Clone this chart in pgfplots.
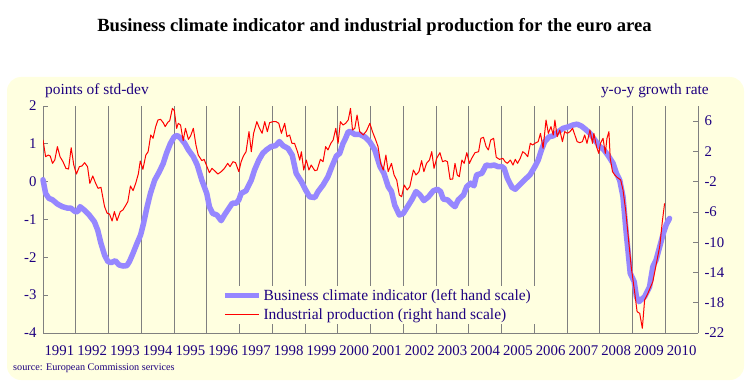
\documentclass[border=0pt]{standalone}
\usepackage{fontspec}
\setmainfont{Liberation Serif}
\usepackage{pgfplots}
\pgfplotsset{compat=1.18}
\usepackage{pgfplotstable}
\definecolor{bgy}{RGB}{255,255,224}
\definecolor{txt}{RGB}{30,0,128}
\definecolor{bci}{RGB}{150,135,255}
\definecolor{gridg}{RGB}{128,128,128}

\pgfplotstableread{
t v
1991.00 0.05
1991.08 -0.31
1991.18 -0.44
1991.29 -0.48
1991.44 -0.59
1991.59 -0.66
1991.75 -0.70
1991.85 -0.70
1991.98 -0.79
1992.06 -0.79
1992.13 -0.66
1992.26 -0.75
1992.41 -0.88
1992.57 -1.06
1992.67 -1.28
1992.77 -1.63
1992.88 -1.94
1992.98 -2.11
1993.08 -2.14
1993.21 -2.09
1993.32 -2.20
1993.44 -2.23
1993.56 -2.22
1993.64 -2.11
1993.75 -1.89
1993.87 -1.63
1993.98 -1.41
1994.07 -1.10
1994.18 -0.66
1994.28 -0.31
1994.41 0.04
1994.55 0.26
1994.67 0.48
1994.77 0.75
1994.89 1.01
1995.01 1.19
1995.10 1.22
1995.20 1.15
1995.33 1.01
1995.44 0.84
1995.59 0.66
1995.71 0.44
1995.85 0.04
1996.00 -0.31
1996.08 -0.66
1996.18 -0.84
1996.31 -0.88
1996.44 -1.03
1996.54 -0.88
1996.64 -0.75
1996.78 -0.57
1996.90 -0.57
1996.98 -0.48
1997.05 -0.31
1997.20 -0.24
1997.36 0.04
1997.46 0.31
1997.59 0.57
1997.71 0.75
1997.82 0.84
1997.97 0.93
1998.10 0.95
1998.22 1.06
1998.33 0.95
1998.48 0.88
1998.61 0.70
1998.73 0.22
1998.89 0.00
1999.02 -0.22
1999.14 -0.40
1999.30 -0.42
1999.40 -0.26
1999.55 -0.09
1999.70 0.13
1999.84 0.44
1999.96 0.68
2000.06 0.75
2000.16 1.01
2000.24 1.15
2000.32 1.32
2000.39 1.32
2000.52 1.25
2000.67 1.25
2000.83 1.18
2000.98 1.05
2001.13 0.84
2001.29 0.40
2001.41 0.22
2001.54 -0.13
2001.64 -0.26
2001.74 -0.62
2001.88 -0.88
2002.00 -0.84
2002.10 -0.70
2002.26 -0.48
2002.39 -0.26
2002.51 -0.35
2002.63 -0.50
2002.77 -0.40
2002.92 -0.24
2003.04 -0.20
2003.14 -0.26
2003.22 -0.46
2003.35 -0.48
2003.48 -0.59
2003.58 -0.66
2003.68 -0.48
2003.84 -0.35
2003.94 -0.13
2004.06 -0.04
2004.16 -0.11
2004.24 0.18
2004.40 0.22
2004.53 0.44
2004.65 0.42
2004.78 0.44
2004.88 0.40
2005.01 0.40
2005.08 0.35
2005.18 0.09
2005.32 -0.15
2005.42 -0.20
2005.57 -0.07
2005.72 0.06
2005.87 0.18
2006.02 0.40
2006.12 0.57
2006.22 0.84
2006.32 1.06
2006.46 1.19
2006.58 1.21
2006.73 1.32
2006.88 1.41
2007.04 1.45
2007.19 1.50
2007.31 1.52
2007.44 1.47
2007.57 1.38
2007.70 1.28
2007.85 1.10
2008.00 0.93
2008.12 0.85
2008.25 0.70
2008.41 0.48
2008.51 0.22
2008.61 0.04
2008.71 -0.40
2008.81 -1.37
2008.89 -2.07
2008.93 -2.42
2009.05 -2.64
2009.12 -3.04
2009.20 -3.17
2009.37 -3.04
2009.52 -2.78
2009.62 -2.25
2009.72 -2.07
2009.83 -1.72
2009.93 -1.40
2010.03 -1.14
2010.13 -0.97
}\bcidata

\pgfplotstableread{
t v
1991.00 3.51
1991.08 1.30
1991.16 1.52
1991.22 1.39
1991.29 0.42
1991.36 0.86
1991.44 2.63
1991.52 1.30
1991.61 0.64
1991.70 -0.24
1991.78 -0.33
1991.86 2.49
1991.94 0.20
1992.02 -0.99
1992.11 -0.02
1992.19 0.07
1992.27 0.51
1992.36 -0.02
1992.43 -2.22
1992.52 -1.25
1992.60 -2.13
1992.68 -2.88
1992.77 -2.75
1992.88 -5.30
1992.96 -6.18
1993.03 -6.27
1993.11 -7.20
1993.18 -5.96
1993.26 -7.15
1993.36 -5.96
1993.44 -5.74
1993.52 -5.17
1993.59 -4.64
1993.67 -2.57
1993.75 -3.19
1993.83 -2.22
1993.91 -0.99
1993.97 0.73
1994.05 -0.37
1994.14 1.52
1994.21 1.96
1994.29 4.17
1994.36 3.73
1994.44 5.27
1994.51 6.15
1994.59 6.24
1994.67 5.80
1994.73 5.27
1994.81 5.84
1994.87 6.06
1994.95 7.69
1995.01 7.38
1995.08 5.05
1995.13 5.71
1995.20 5.49
1995.28 3.42
1995.35 5.05
1995.44 3.59
1995.51 4.08
1995.59 5.05
1995.67 2.85
1995.74 1.52
1995.85 0.78
1995.92 0.95
1996.00 0.07
1996.08 -0.81
1996.16 -0.24
1996.27 -0.68
1996.34 -0.99
1996.44 -0.68
1996.54 -0.24
1996.64 0.42
1996.71 -0.02
1996.80 0.64
1996.88 0.51
1996.98 -0.68
1997.05 0.64
1997.12 1.39
1997.20 1.96
1997.29 4.61
1997.36 1.96
1997.43 4.39
1997.53 5.93
1997.61 5.05
1997.69 4.39
1997.77 5.93
1997.85 4.61
1997.92 5.80
1998.02 5.93
1998.12 5.93
1998.20 5.71
1998.28 4.39
1998.38 5.71
1998.45 3.95
1998.53 4.17
1998.60 3.07
1998.68 3.07
1998.77 1.96
1998.84 0.86
1998.89 1.96
1998.96 -0.46
1999.04 0.86
1999.12 -0.46
1999.19 0.20
1999.30 -0.55
1999.37 -0.46
1999.47 0.95
1999.55 0.64
1999.63 2.63
1999.70 2.19
1999.79 3.07
1999.86 3.51
1999.94 5.05
2000.01 3.07
2000.08 5.93
2000.16 5.49
2000.24 5.71
2000.32 6.15
2000.39 7.69
2000.45 4.83
2000.52 5.05
2000.59 6.81
2000.67 4.61
2000.78 4.17
2000.88 4.74
2000.98 5.71
2001.06 4.61
2001.16 3.51
2001.23 2.63
2001.31 0.42
2001.39 -0.46
2001.47 1.52
2001.54 -0.68
2001.64 0.42
2001.72 -1.12
2001.80 -1.78
2001.88 -3.76
2001.95 -3.98
2002.03 -2.44
2002.12 -3.10
2002.20 -2.66
2002.31 -0.46
2002.39 -1.12
2002.48 -0.68
2002.56 0.78
2002.63 -0.68
2002.71 0.42
2002.80 0.86
2002.87 1.96
2002.94 -0.24
2003.02 1.08
2003.12 1.83
2003.20 0.64
2003.28 0.78
2003.35 0.64
2003.43 -1.69
2003.51 -1.65
2003.58 0.42
2003.65 -1.12
2003.71 -1.34
2003.79 0.86
2003.86 0.42
2003.94 1.83
2004.02 0.42
2004.09 1.08
2004.19 1.83
2004.30 1.96
2004.37 3.73
2004.45 3.86
2004.53 2.63
2004.60 2.19
2004.67 3.51
2004.76 3.73
2004.84 1.22
2004.94 0.95
2005.04 1.08
2005.11 0.64
2005.18 0.42
2005.27 0.86
2005.35 0.20
2005.42 0.95
2005.49 0.42
2005.57 1.08
2005.65 1.96
2005.72 1.74
2005.80 1.30
2005.88 3.07
2005.95 2.85
2006.02 3.07
2006.12 3.29
2006.19 4.39
2006.27 2.41
2006.36 6.15
2006.43 4.39
2006.51 5.27
2006.58 4.17
2006.63 6.15
2006.70 3.95
2006.78 4.83
2006.86 3.29
2006.93 4.61
2007.01 4.39
2007.09 4.61
2007.17 5.05
2007.24 4.17
2007.31 3.29
2007.39 3.15
2007.47 3.29
2007.54 4.17
2007.61 3.07
2007.70 4.83
2007.78 3.07
2007.82 4.39
2007.90 2.63
2007.97 1.74
2008.02 3.07
2008.10 3.73
2008.17 1.74
2008.22 3.73
2008.28 4.61
2008.32 1.08
2008.39 -0.68
2008.46 -1.12
2008.53 -1.43
2008.64 -1.78
2008.71 -3.10
2008.79 -5.74
2008.86 -8.83
2008.96 -13.23
2009.07 -16.76
2009.14 -19.18
2009.22 -19.40
2009.30 -21.38
2009.37 -17.64
2009.47 -16.76
2009.62 -15.22
2009.73 -12.79
2009.83 -10.59
2009.91 -7.29
2009.98 -4.86
}\ipdata

\begin{document}
\begin{tikzpicture}[x=1pt,y=1pt]
\path[use as bounding box] (0,0) rectangle (749,381);
\fill[bgy, rounded corners=14pt] (7,1) rectangle (744,304);
\node[anchor=base, inner sep=0pt, font=\fontsize{18.6}{21}\selectfont\bfseries] at (374.5,349.3)
  {Business climate indicator and industrial production for the euro area};
\node[anchor=base west, inner sep=0pt, text=txt, font=\fontsize{15.4}{18}\selectfont] at (45,287) {points of std-dev};
\node[anchor=base east, inner sep=0pt, text=txt, font=\fontsize{15.4}{18}\selectfont] at (709,287) {y-o-y growth rate};
\node[anchor=base west, inner sep=0pt, text=txt, font=\fontsize{10.2}{12}\selectfont] at (13,11) {source: European Commission services};

\begin{axis}[
  at={(43pt,48pt)}, anchor=south west, scale only axis,
  width=655pt, height=227pt,
  xmin=1991, xmax=2011, ymin=-4, ymax=2,
  axis x line*=bottom, axis y line*=left,
  axis line style={gridg, line width=0.8pt},
  tick align=inside,
  xtick={1991.5,1992.5,1993.5,1994.5,1995.5,1996.5,1997.5,1998.5,1999.5,2000.5,2001.5,2002.5,2003.5,2004.5,2005.5,2006.5,2007.5,2008.5,2009.5,2010.5},
  xticklabels={1991,1992,1993,1994,1995,1996,1997,1998,1999,2000,2001,2002,2003,2004,2005,2006,2007,2008,2009,2010},
  xtick style={draw=none},
  minor xtick={1992,1993,1994,1995,1996,1997,1998,1999,2000,2001,2002,2003,2004,2005,2006,2007,2008,2009,2010},
  minor tick length=0pt,
  xminorgrids=true,
  minor grid style={gridg, line width=0.8pt},
  ytick={-4,-3,-2,-1,0,1,2},
  ytick style={gridg, line width=0.8pt},
  major tick length=5pt,
  ticklabel style={text=txt, font=\fontsize{14.8}{17}\selectfont},
  xticklabel style={yshift=-9pt},
  yticklabel style={xshift=-3pt},
  /pgf/number format/assume math mode=true,
  clip=false,
]
\addplot[bci, line width=5.5pt, line join=round, line cap=round] table[x=t,y=v] {\bcidata};
\end{axis}

\begin{axis}[
  at={(43pt,48pt)}, anchor=south west, scale only axis,
  width=655pt, height=227pt,
  xmin=1991, xmax=2011, ymin=-22, ymax=8,
  axis x line=none, axis y line*=right,
  axis line style={gridg, line width=0.8pt},
  tick align=inside,
  ytick={-22,-18,-14,-10,-6,-2,2,6},
  ytick style={gridg, line width=0.8pt},
  major tick length=5pt,
  ticklabel style={text=txt, font=\fontsize{14.8}{17}\selectfont},
  yticklabel style={xshift=3pt},
  /pgf/number format/assume math mode=true,
  legend style={at={(0.27,0.207)}, anchor=north west, fill=bgy, draw=none,
    font=\fontsize{15.5}{18}\selectfont, text=txt, inner xsep=2pt, inner ysep=1pt,
    row sep=3pt, cells={anchor=west, inner xsep=1.5pt}},
  legend image code/.code={\draw[#1] (0pt,0pt) -- (34pt,0pt);},
]
\addlegendimage{bci, line width=5.5pt}
\addlegendentry{Business climate indicator (left hand scale)}
\addplot[red, line width=1pt, line join=round] table[x=t,y=v] {\ipdata};
\addlegendentry{Industrial production (right hand scale)}
\end{axis}
\end{tikzpicture}
\end{document}
